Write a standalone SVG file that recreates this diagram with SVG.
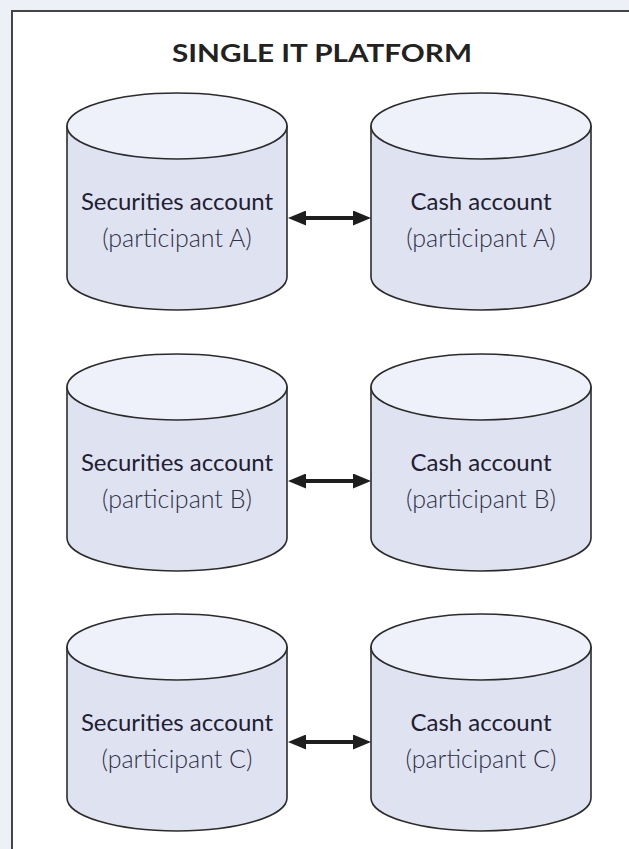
<svg xmlns="http://www.w3.org/2000/svg" xmlns:xlink="http://www.w3.org/1999/xlink" width="629" height="849" viewBox="0 0 629 849">
<style>
.body{fill:#dfe3f1;stroke:#2b2b2b;stroke-width:1.6}
.top{fill:#eef1f9;stroke:#2b2b2b;stroke-width:1.6}
.t1{font-family:Lato,"Open Sans","Liberation Sans",sans-serif;font-size:24px;fill:#1f2033;text-anchor:middle}
.t2{font-family:Lato,"Open Sans","Liberation Sans",sans-serif;font-weight:300;font-size:25px;fill:#2e3148;text-anchor:middle}
.title{font-family:Lato,"Open Sans","Liberation Sans",sans-serif;font-weight:700;font-size:25px;fill:#222;text-anchor:middle}
.conn{stroke:#1e1e1e;stroke-width:4;fill:none;marker-start:url(#ah);marker-end:url(#ah)}
</style>
<defs>
<marker id="ah" markerUnits="userSpaceOnUse" markerWidth="18" markerHeight="15" refX="9" refY="7.5" orient="auto-start-reverse" viewBox="0 0 18 15">
<path d="M0,0 L18,7.5 L0,15 z" fill="#1e1e1e"/>
</marker>
<g id="cyl">
<path class="body" d="M-110,0 L-110,151 A110 33 0 0 0 110,151 L110,0 Z"/>
<ellipse class="top" cx="0" cy="0" rx="110" ry="33"/>
</g>
</defs>
<rect x="0" y="0" width="629" height="849" fill="#eef0f7"/>
<rect id="frame" x="12" y="11" width="700" height="900" fill="#ffffff" stroke="#444" stroke-width="2"/>
<text class="title" x="322" y="62" textLength="300" lengthAdjust="spacingAndGlyphs">SINGLE IT PLATFORM</text>

<g id="sec-a" transform="translate(177,126)">
<use xlink:href="#cyl"/>
<text class="t1" x="0" y="84">Securities account</text>
<text class="t2" x="0" y="121">(participant A)</text>
</g>
<g id="cash-a" transform="translate(481,126)">
<use xlink:href="#cyl"/>
<text class="t1" x="0" y="84">Cash account</text>
<text class="t2" x="0" y="121">(participant A)</text>
</g>
<g id="sec-b" transform="translate(177,387)">
<use xlink:href="#cyl"/>
<text class="t1" x="0" y="84">Securities account</text>
<text class="t2" x="0" y="121">(participant B)</text>
</g>
<g id="cash-b" transform="translate(481,387)">
<use xlink:href="#cyl"/>
<text class="t1" x="0" y="84">Cash account</text>
<text class="t2" x="0" y="121">(participant B)</text>
</g>
<g id="sec-c" transform="translate(177,647)">
<use xlink:href="#cyl"/>
<text class="t1" x="0" y="84">Securities account</text>
<text class="t2" x="0" y="121">(participant C)</text>
</g>
<g id="cash-c" transform="translate(481,647)">
<use xlink:href="#cyl"/>
<text class="t1" x="0" y="84">Cash account</text>
<text class="t2" x="0" y="121">(participant C)</text>
</g>

<g id="connectors">
<line class="conn" x1="297" y1="218" x2="362" y2="218"/>
<line class="conn" x1="297" y1="481" x2="362" y2="481"/>
<line class="conn" x1="297" y1="742" x2="362" y2="742"/>
</g>
</svg>
